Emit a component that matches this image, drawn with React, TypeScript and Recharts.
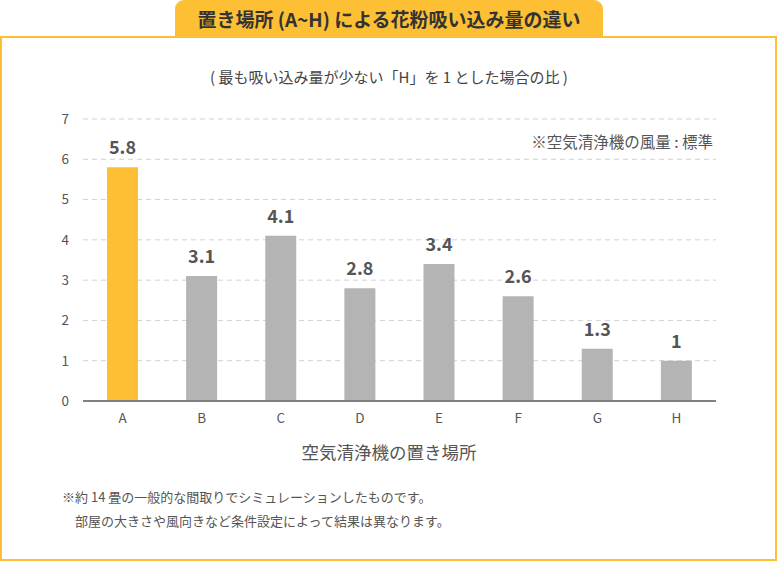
import React from "react";
import { BarChart, Bar, XAxis, YAxis, CartesianGrid, Cell, LabelList } from "recharts";

const categories = ["A", "B", "C", "D", "E", "F", "G", "H"];
const values = [5.8, 3.1, 4.1, 2.8, 3.4, 2.6, 1.3, 1];
const yTicks = [0, 1, 2, 3, 4, 5, 6, 7];
const highlightCategory = "A";

const title = "置き場所 (A~H) による花粉吸い込み量の違い";
const subtitle = "( 最も吸い込み量が少ない「H」を 1 とした場合の比 )";
const note = "※空気清浄機の風量 : 標準";
const xTitle = "空気清浄機の置き場所";
const footnotes = [
  "※約 14 畳の一般的な間取りでシミュレーションしたものです。",
  "部屋の大きさや風向きなど条件設定によって結果は異なります。",
];

const data = categories.map((c, i) => ({ name: c, value: values[i] }));

const FONT = '"Noto Sans CJK JP", "Noto Sans", sans-serif';
const YELLOW = "#FDBF33";
const GRAY = "#B4B4B4";

export default function App() {
  return (
    <div
      style={{
        position: "absolute",
        left: 0,
        top: 0,
        width: 778,
        height: 563,
        background: "#fff",
        fontFamily: FONT,
        overflow: "hidden",
      }}
    >
      {/* frame */}
      <div
        style={{
          position: "absolute",
          left: 0,
          top: 36,
          width: 777,
          height: 525,
          border: `2px solid ${YELLOW}`,
          boxSizing: "border-box",
        }}
      />
      {/* title tab */}
      <div
        style={{
          position: "absolute",
          left: 175,
          top: 0,
          width: 428,
          height: 38,
          background: YELLOW,
          borderRadius: "9px 9px 0 0",
          display: "flex",
          alignItems: "center",
          justifyContent: "center",
          color: "#333",
          fontWeight: 700,
          fontSize: 19,
          lineHeight: "22px",
          paddingBottom: 1,
          boxSizing: "border-box",
          whiteSpace: "nowrap",
        }}
      >
        {title}
      </div>
      <BarChart
        width={778}
        height={563}
        data={data}
        margin={{ top: 119, right: 62, bottom: 132, left: 53 }}
        style={{ position: "absolute", left: 0, top: 0 }}
      >
        <CartesianGrid vertical={false} stroke="#D2D2D2" strokeDasharray="5 4" />
        <XAxis
          dataKey="name"
          tickLine={false}
          axisLine={{ stroke: "#808080", strokeWidth: 2 }}
          tick={{ fill: "#555", fontSize: 13.5, fontFamily: FONT }}
          tickMargin={6}
          interval={0}
        />
        <YAxis
          width={30}
          domain={[0, 7]}
          ticks={yTicks}
          axisLine={false}
          tickLine={false}
          tick={{ fill: "#555", fontSize: 13.5, fontFamily: FONT }}
          tickMargin={8}
          interval={0}
        />
        <Bar dataKey="value" barSize={31} isAnimationActive={false}>
          {data.map((d) => (
            <Cell key={d.name} fill={d.name === highlightCategory ? YELLOW : GRAY} />
          ))}
          <LabelList
            dataKey="value"
            position="top"
            offset={13}
            style={{ fill: "#555", fontSize: 18, fontWeight: 700, fontFamily: FONT }}
          />
        </Bar>
      </BarChart>
      <div
        style={{
          position: "absolute",
          left: 0,
          width: 778,
          top: 67,
          textAlign: "center",
          fontSize: 15,
          lineHeight: "20px",
          color: "#444",
          whiteSpace: "nowrap",
        }}
      >
        {subtitle}
      </div>
      <div
        style={{
          position: "absolute",
          right: 65,
          top: 131,
          fontSize: 15.5,
          lineHeight: "20px",
          color: "#555",
          whiteSpace: "nowrap",
        }}
      >
        {note}
      </div>
      <div
        style={{
          position: "absolute",
          left: 0,
          width: 778,
          top: 441,
          textAlign: "center",
          fontSize: 17.5,
          lineHeight: "22px",
          color: "#555",
          whiteSpace: "nowrap",
        }}
      >
        {xTitle}
      </div>
      <div
        style={{
          position: "absolute",
          left: 62,
          top: 485,
          fontSize: 13,
          lineHeight: "24px",
          color: "#555",
          whiteSpace: "nowrap",
        }}
      >
        <div>{footnotes[0]}</div>
        <div style={{ paddingLeft: 13 }}>{footnotes[1]}</div>
      </div>
    </div>
  );
}
